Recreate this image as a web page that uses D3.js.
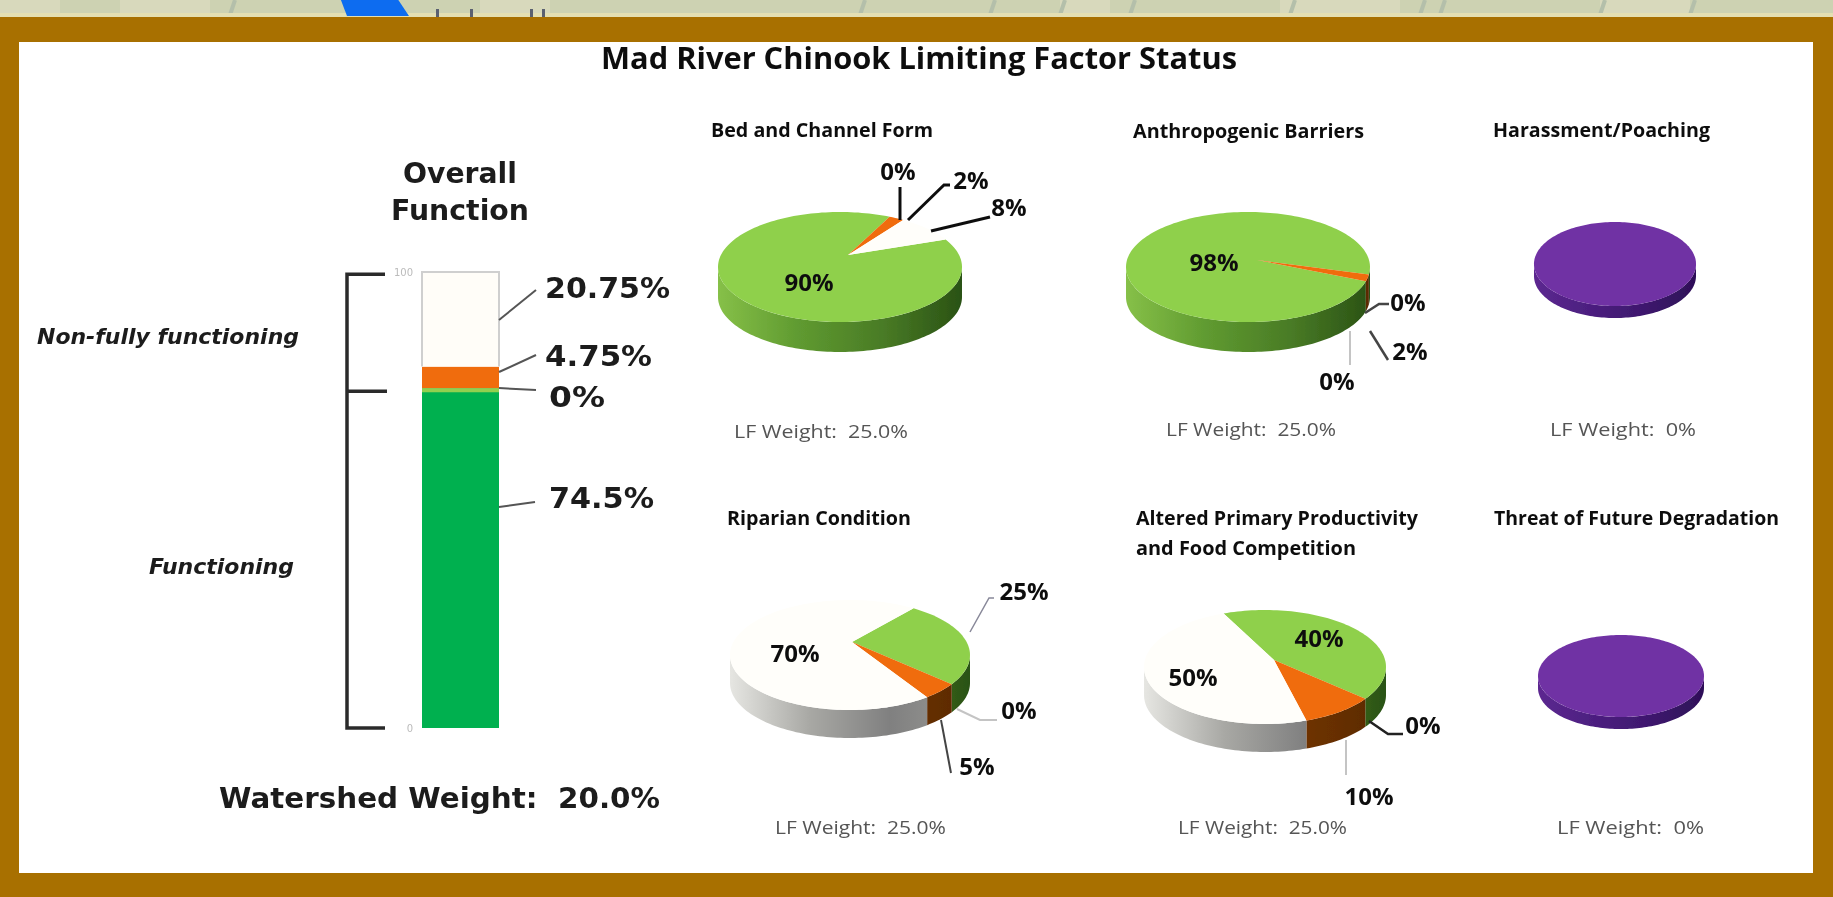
<!DOCTYPE html>
<html>
<head>
<meta charset="utf-8">
<title>Mad River Chinook Limiting Factor Status</title>
<script src="https://cdn.jsdelivr.net/npm/d3@7"></script>
<style>
  html, body { margin: 0; padding: 0; background: #fff; }
  svg { display: block; }
  .sans { font-family: "DejaVu Sans", sans-serif; font-weight: bold; fill: #1c1c1c; }
  .cal { font-family: "Open Sans", sans-serif; font-weight: 700; fill: #111; }
</style>
</head>
<body>
<svg id="chart" width="1833" height="897"></svg>
<script>
// == Data ====================================================================

const chartTitle = 'Mad River Chinook Limiting Factor Status'
const watershedWeight = 'Watershed Weight:  20.0%'

// overall bar, bottom to top
const barKeys = ['functioning', 'zero', 'partial', 'nonFunctioning']
const barValues = [74.5, 0, 4.75, 20.75]
const barTicks = [0, 100]

// every pie uses the same slice order
const sliceKeys = ['green', 'orange', 'zero', 'white', 'purple']
const bedValues = [90, 2, 0, 8, 0]
const barrierValues = [98, 2, 0, 0, 0]
const poachingValues = [0, 0, 0, 0, 100]
const riparianValues = [25, 5, 0, 70, 0]
const productivityValues = [40, 10, 0, 50, 0]
const degradationValues = [0, 0, 0, 0, 100]

const pieTitles = [
  ['Bed and Channel Form'],
  ['Anthropogenic Barriers'],
  ['Harassment/Poaching'],
  ['Riparian Condition'],
  ['Altered Primary Productivity', 'and Food Competition'],
  ['Threat of Future Degradation']
]
const lfWeights = ['25.0%', '25.0%', '0%', '25.0%', '25.0%', '0%']

// == Layout ==================================================================

const topColors = { green: '#8fd04c', orange: '#f06c0c', zero: '#e0d040', white: '#fffefa', purple: '#7030a4' }
const sideStops = {
  green: ['#86c048', '#5f9a30', '#4a7c26', '#2a5214'],
  orange: ['#8a4308', '#7a3806', '#6e3205', '#5a2a04'],
  zero: ['#888', '#888', '#888', '#888'],
  white: ['#e6e6e2', '#a8a8a4', '#808080', '#9a9a96'],
  purple: ['#5c2890', '#4c1f80', '#3e186e', '#2e1058']
}

// geometry of each pie; start is degrees clockwise from 12 o'clock
const pieLayouts = [
  { values: bedValues, cx: 840, cy: 267, rx: 122, ry: 55, depth: 30, apexX: 848, apexY: 255, start: 60,
    titleX: 711, titleW: 222, titleY: 130, lfX: 734, lfW: 174, lfY: 432 },
  { values: barrierValues, cx: 1248, cy: 267, rx: 122, ry: 55, depth: 30, apexX: 1257, apexY: 260, start: 105,
    titleX: 1133, titleW: 231, titleY: 131, lfX: 1166, lfW: 170, lfY: 430 },
  { values: poachingValues, cx: 1615, cy: 264, rx: 81, ry: 42, depth: 12, apexX: 1615, apexY: 264, start: 0,
    titleX: 1493, titleW: 217, titleY: 130, lfX: 1550, lfW: 146, lfY: 430 },
  { values: riparianValues, cx: 850, cy: 655, rx: 120, ry: 55, depth: 28, apexX: 852, apexY: 642, start: 32,
    titleX: 727, titleW: 184, titleY: 518, lfX: 775, lfW: 171, lfY: 828 },
  { values: productivityValues, cx: 1265, cy: 667, rx: 121, ry: 57, depth: 28, apexX: 1274, apexY: 660, start: -20,
    titleX: 1136, titleW: 282, titleY: 518, lfX: 1178, lfW: 169, lfY: 828 },
  { values: degradationValues, cx: 1621, cy: 676, rx: 83, ry: 41, depth: 12, apexX: 1621, apexY: 676, start: 0,
    titleX: 1494, titleW: 285, titleY: 518, lfX: 1557, lfW: 147, lfY: 828 }
]
const secondLineWidths = { 4: 220 }

// value labels: pie, slice index, label centre, leader line points, leader colour and width
const pieLabels = [
  { pie: 0, slice: 0, x: 809, y: 282 },
  { pie: 0, slice: 2, x: 898, y: 171, line: [[900, 187], [900, 220]], stroke: '#111', sw: 3 },
  { pie: 0, slice: 1, x: 971, y: 180, line: [[950, 185], [944, 185], [908, 220]], stroke: '#111', sw: 3 },
  { pie: 0, slice: 3, x: 1009, y: 207, line: [[990, 217], [931, 231]], stroke: '#111', sw: 3 },
  { pie: 1, slice: 0, x: 1214, y: 262 },
  { pie: 1, slice: 2, x: 1408, y: 302, line: [[1365, 313], [1379, 304], [1389, 304]], stroke: '#444', sw: 2.5 },
  { pie: 1, slice: 1, x: 1410, y: 351, line: [[1370, 331], [1388, 360]], stroke: '#444', sw: 2.5 },
  { pie: 1, slice: 3, x: 1337, y: 381, line: [[1350, 331], [1350, 365]], stroke: '#c4c4c4', sw: 2 },
  { pie: 3, slice: 3, x: 795, y: 653 },
  { pie: 3, slice: 0, x: 1024, y: 591, line: [[994, 598], [989, 598], [970, 632]], stroke: '#889', sw: 1.5 },
  { pie: 3, slice: 2, x: 1019, y: 710, line: [[997, 720], [980, 720], [957, 709]], stroke: '#c4c4c4', sw: 2 },
  { pie: 3, slice: 1, x: 977, y: 766, line: [[951, 773], [941, 720]], stroke: '#444', sw: 2 },
  { pie: 4, slice: 0, x: 1319, y: 638 },
  { pie: 4, slice: 3, x: 1193, y: 677 },
  { pie: 4, slice: 2, x: 1423, y: 725, line: [[1369, 721], [1388, 734], [1403, 734]], stroke: '#222', sw: 2.5 },
  { pie: 4, slice: 1, x: 1369, y: 796, line: [[1346, 740], [1346, 775]], stroke: '#c4c4c4', sw: 2 }
]

// == Drawing =================================================================

const svg = d3.select('#chart')
const defs = svg.append('defs')
defs.append('filter').attr('id', 'soft')
  .attr('filterUnits', 'userSpaceOnUse')
  .attr('x', -30).attr('y', -30).attr('width', 1893).attr('height', 957)
  .append('feGaussianBlur').attr('stdDeviation', 0.55)

const root = svg.append('g').attr('filter', 'url(#soft)')

// strip of the map showing above the frame; runs past the edges so the blur stays clean
root.append('rect').attr('x', -30).attr('y', -30).attr('width', 1893).attr('height', 48).attr('fill', '#cdd2b2')
root.selectAll('.patch').data([[0, 60], [120, 90], [480, 70], [1060, 50], [1280, 120], [1600, 90]])
  .join('rect').attr('class', 'patch')
  .attr('x', d => d[0]).attr('width', d => d[1]).attr('height', 14).attr('fill', '#d8d9bc')
root.selectAll('.streak').data([230, 860, 990, 1060, 1130, 1290, 1420, 1440, 1600, 1690])
  .join('line').attr('class', 'streak')
  .attr('x1', d => d).attr('x2', d => d + 5).attr('y1', 15).attr('y2', 0)
  .attr('stroke', '#b4bfaa').attr('stroke-width', 4)
root.append('rect').attr('x', -30).attr('y', 13).attr('width', 1893).attr('height', 5).attr('fill', '#e4dfb2')
root.append('path').attr('d', 'M339 -5L395 -5L409 16L347 16Z').attr('fill', '#0a6cf0')
root.selectAll('.mapMark').data([436, 470, 530, 542])
  .join('rect').attr('class', 'mapMark')
  .attr('x', d => d).attr('y', 9).attr('width', 3).attr('height', 8).attr('fill', '#5a6070')

// brown frame and white panel
root.append('rect').attr('x', -30).attr('y', 17).attr('width', 1893).attr('height', 910).attr('fill', '#a87000')
root.append('rect').attr('x', 19).attr('y', 42).attr('width', 1794).attr('height', 831).attr('fill', '#fff')

root.append('text').attr('class', 'cal')
  .attr('x', 601).attr('y', 58).attr('dy', '0.36em')
  .attr('font-size', 30).attr('textLength', 636).attr('lengthAdjust', 'spacingAndGlyphs')
  .text(chartTitle)

// -- Overall function bar ----------------------------------------------------

const yBar = d3.scaleLinear().domain([0, 100]).range([728, 272])
const xBar = d3.scaleBand().domain(['overall']).range([422, 499])

const barStack = d3.stack().keys(barKeys)([Object.fromEntries(barKeys.map((k, i) => [k, barValues[i]]))])
const barColors = { functioning: '#00b050', zero: '#92d050', partial: '#f06c0c', nonFunctioning: '#fffdf8' }

root.selectAll('.bar').data(barStack).join('rect').attr('class', 'bar')
  .attr('x', xBar('overall')).attr('width', xBar.bandwidth())
  .attr('y', d => yBar(d[0][1])).attr('height', d => yBar(d[0][0]) - yBar(d[0][1]))
  .attr('fill', d => barColors[d.key])

// open outline around the white part
root.append('path')
  .attr('d', d3.line()([[422, yBar(79.25)], [422, yBar(100)], [499, yBar(100)], [499, yBar(79.25)]]))
  .attr('fill', 'none').attr('stroke', '#cfcfcf').attr('stroke-width', 2)

// the zero segment still shows as a thin line at the top of the green
root.append('line')
  .attr('x1', 422).attr('x2', 499)
  .attr('y1', yBar(74.5) + 2).attr('y2', yBar(74.5) + 2)
  .attr('stroke', barColors.zero).attr('stroke-width', 4)

const axis = root.append('g').attr('transform', 'translate(416,0)')
  .call(d3.axisLeft(yBar).tickValues(barTicks).tickSize(0))
axis.select('.domain').remove()
axis.selectAll('text').attr('fill', '#bbb').attr('font-size', 10).attr('font-family', 'DejaVu Sans')

// bracket
const bracket = d3.path()
bracket.moveTo(385, yBar(99.5))
bracket.lineTo(347, yBar(99.5))
bracket.lineTo(347, yBar(0))
bracket.lineTo(385, yBar(0))
bracket.moveTo(347, yBar(74.5) + 3)
bracket.lineTo(387, yBar(74.5) + 3)
root.append('path').attr('d', bracket.toString())
  .attr('fill', 'none').attr('stroke', '#2a2a2a').attr('stroke-width', 3.5)

const barLabels = [
  { value: barValues[3], x: 545, y: 288, w: 125, line: [[499, 320], [536, 290]] },
  { value: barValues[2], x: 545, y: 356, w: 107, line: [[499, 372], [536, 355]] },
  { value: barValues[1], x: 549, y: 397, w: 56, line: [[499, 388], [536, 390]] },
  { value: barValues[0], x: 549, y: 498, w: 105, line: [[499, 507], [535, 502]] }
]
root.selectAll('.barLeader').data(barLabels).join('path').attr('class', 'barLeader')
  .attr('d', d => d3.line()(d.line))
  .attr('fill', 'none').attr('stroke', '#555').attr('stroke-width', 2)
root.selectAll('.barLabel').data(barLabels).join('text').attr('class', 'barLabel sans')
  .attr('x', d => d.x).attr('y', d => d.y).attr('dy', '0.36em')
  .attr('font-size', 29)
  .attr('textLength', d => d.w).attr('lengthAdjust', 'spacingAndGlyphs')
  .text(d => d.value + '%')

const sansTexts = [
  { t: 'Overall', x: 403, w: 114, y: 173, size: 28 },
  { t: 'Function', x: 391, w: 138, y: 210, size: 28 },
  { t: watershedWeight, x: 219, w: 441, y: 798, size: 28 }
]
root.selectAll('.sansText').data(sansTexts).join('text').attr('class', 'sansText sans')
  .attr('x', d => d.x).attr('y', d => d.y).attr('dy', '0.36em')
  .attr('font-size', d => d.size).attr('textLength', d => d.w).attr('lengthAdjust', 'spacingAndGlyphs')
  .style('white-space', 'pre')
  .text(d => d.t)

const sideTexts = [
  { t: 'Non-fully functioning', x: 37, w: 262, y: 336 },
  { t: 'Functioning', x: 149, w: 145, y: 566 }
]
root.selectAll('.sideText').data(sideTexts).join('text').attr('class', 'sideText sans')
  .attr('x', d => d.x).attr('y', d => d.y).attr('dy', '0.36em')
  .attr('font-size', 21).attr('font-style', 'italic')
  .attr('textLength', d => d.w).attr('lengthAdjust', 'spacingAndGlyphs')
  .text(d => d.t)

// -- Tilted pies -------------------------------------------------------------

const rad = d => d * Math.PI / 180

function rimPoint (p, a) {
  return [p.cx + p.rx * Math.sin(a), p.cy - p.ry * Math.cos(a)]
}

function topFace (p, s) {
  const path = d3.path()
  const full = s.endAngle - s.startAngle >= 2 * Math.PI - 1e-6
  const steps = Math.max(2, Math.ceil((s.endAngle - s.startAngle) / 0.03))
  d3.range(steps + 1).forEach(i => {
    const pt = rimPoint(p, s.startAngle + (s.endAngle - s.startAngle) * i / steps)
    if (i === 0) {
      if (full) path.moveTo(pt[0], pt[1])
      else { path.moveTo(p.apexX, p.apexY); path.lineTo(pt[0], pt[1]) }
    } else path.lineTo(pt[0], pt[1])
  })
  path.closePath()
  return path.toString()
}

// wall below the part of the rim facing the viewer (90 to 270 degrees, repeated once round)
function sideWall (p, s) {
  const parts = []
  ;[0, 2 * Math.PI, -2 * Math.PI].forEach(turn => {
    const a0 = Math.max(s.startAngle + turn, Math.PI / 2)
    const a1 = Math.min(s.endAngle + turn, 3 * Math.PI / 2)
    if (a1 <= a0) return
    const steps = Math.max(2, Math.ceil((a1 - a0) / 0.03))
    const rim = d3.range(steps + 1).map(i => rimPoint(p, a0 + (a1 - a0) * i / steps))
    const path = d3.path()
    rim.forEach((pt, i) => i ? path.lineTo(pt[0], pt[1]) : path.moveTo(pt[0], pt[1]))
    rim.reverse().forEach(pt => path.lineTo(pt[0], pt[1] + p.depth))
    path.closePath()
    parts.push(path.toString())
  })
  return parts.join('')
}

pieLayouts.forEach((p, pi) => {
  const arcs = d3.pie().sort(null).value(d => d.value)
    .startAngle(rad(p.start)).endAngle(rad(p.start) + 2 * Math.PI)(
      sliceKeys.map((k, i) => ({ key: k, value: p.values[i] })))
    .filter(s => s.value > 0)

  sliceKeys.forEach(k => {
    const grad = defs.append('linearGradient').attr('id', 'side' + pi + k)
      .attr('gradientUnits', 'userSpaceOnUse')
      .attr('x1', p.cx - p.rx).attr('x2', p.cx + p.rx).attr('y1', 0).attr('y2', 0)
    sideStops[k].forEach((c, i) => {
      grad.append('stop').attr('offset', i / 3).attr('stop-color', c)
    })
  })

  const g = root.append('g').attr('class', 'pie')
  g.selectAll('.wall').data(arcs).join('path').attr('class', 'wall')
    .attr('d', s => sideWall(p, s))
    .attr('fill', s => 'url(#side' + pi + s.data.key + ')')
  g.selectAll('.face').data(arcs).join('path').attr('class', 'face')
    .attr('d', s => topFace(p, s))
    .attr('fill', s => topColors[s.data.key])

  root.selectAll('.pieTitle' + pi).data(pieTitles[pi]).join('text').attr('class', 'pieTitle' + pi + ' cal')
    .attr('x', p.titleX).attr('y', (d, i) => p.titleY + i * 30).attr('dy', '0.36em')
    .attr('font-size', 19)
    .attr('textLength', (d, i) => i ? secondLineWidths[pi] : p.titleW).attr('lengthAdjust', 'spacingAndGlyphs')
    .text(d => d)

  root.append('text').attr('class', 'cal')
    .attr('x', p.lfX).attr('y', p.lfY).attr('dy', '0.36em')
    .attr('font-size', 18).style('fill', '#555').style('font-weight', 400)
    .attr('textLength', p.lfW).attr('lengthAdjust', 'spacingAndGlyphs')
    .style('white-space', 'pre')
    .text('LF Weight:  ' + lfWeights[pi])
})

root.selectAll('.pieLeader').data(pieLabels.filter(d => d.line)).join('path').attr('class', 'pieLeader')
  .attr('d', d => d3.line()(d.line))
  .attr('fill', 'none').attr('stroke', d => d.stroke).attr('stroke-width', d => d.sw)
root.selectAll('.pieLabel').data(pieLabels).join('text').attr('class', 'pieLabel cal')
  .attr('x', d => d.x).attr('y', d => d.y).attr('dy', '0.36em')
  .attr('text-anchor', 'middle').attr('font-size', 24)
  .text(d => pieLayouts[d.pie].values[d.slice] + '%')
</script>
</body>
</html>
